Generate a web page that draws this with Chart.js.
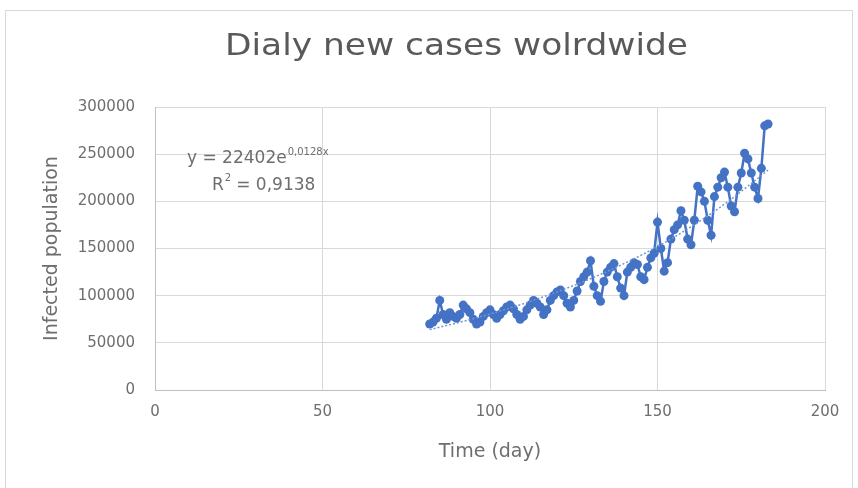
<!DOCTYPE html>
<html>
<head>
<meta charset="utf-8">
<script src="https://cdn.jsdelivr.net/npm/chart.js@4.4.4/dist/chart.umd.min.js"></script>
<style>
  html, body { margin: 0; padding: 0; background: #fff; }
  #wrap { width: 858px; height: 488px; position: relative; }
</style>
</head>
<body>
<div id="wrap"><canvas id="chart"></canvas></div>
<script>
// daily new cases
const days = [
  82, 83, 84, 85, 86, 87, 88, 89, 90, 91, 92, 93, 94, 95, 96, 97, 98, 99, 100, 101,
  102, 103, 104, 105, 106, 107, 108, 109, 110, 111, 112, 113, 114, 115, 116, 117, 118, 119, 120, 121,
  122, 123, 124, 125, 126, 127, 128, 129, 130, 131, 132, 133, 134, 135, 136, 137, 138, 139, 140, 141,
  142, 143, 144, 145, 146, 147, 148, 149, 150, 151, 152, 153, 154, 155, 156, 157, 158, 159, 160, 161,
  162, 163, 164, 165, 166, 167, 168, 169, 170, 171, 172, 173, 174, 175, 176, 177, 178, 179, 180, 181,
  182, 183
];
const cases = [
  70000, 72000, 76000, 95000, 80000, 75000, 82000, 78000, 76000, 80000, 90000, 86000, 82000, 75000, 70000, 72000, 78000, 82000, 85000, 80000,
  76000, 80000, 84000, 88000, 90000, 86000, 80000, 75000, 78000, 85000, 90000, 95000, 92000, 88000, 80000, 85000, 95000, 100000, 104000, 106000,
  100000, 92000, 88000, 95000, 105000, 115000, 120000, 125000, 137000, 110000, 100000, 94000, 115000, 125000, 130000, 134000, 120000, 108000, 100000, 125000,
  130000, 135000, 133000, 120000, 117000, 130000, 140000, 145000, 178000, 150000, 126000, 135000, 160000, 170000, 175000, 190000, 180000, 160000, 154000, 180000,
  216000, 210000, 200000, 180000, 164000, 205000, 215000, 225000, 231000, 215000, 195000, 189000, 215000, 230000, 251000, 245000, 230000, 215000, 203000, 235000,
  280000, 282000
];
// exponential trendline as drawn (dotted)
const trendDays = [82, 90, 100, 110, 120, 130, 140, 150, 160, 170, 183];
const trendValues = [64000, 71000, 80500, 91500, 104000, 118000, 134000, 152000, 173000, 197000, 233000];

const chartTitle = 'Dialy new cases wolrdwide';
const xTitle = 'Time (day)';
const yTitle = 'Infected population';

const grey = '#595959';
const lightGrey = '#6e6e6e';
const gridGrey = '#d9d9d9';
const font = '"DejaVu Sans", sans-serif';

const extras = {
  id: 'extras',
  beforeDraw(chart) {
    const ctx = chart.ctx;
    ctx.save();
    ctx.fillStyle = '#fff';
    ctx.fillRect(0, 0, chart.width, chart.height);
    ctx.strokeStyle = '#d9d9d9';
    ctx.lineWidth = 1;
    ctx.strokeRect(5.5, 10.5, 847, 480);
    ctx.restore();
  },
  afterDraw(chart) {
    const ctx = chart.ctx;
    ctx.save();
    ctx.fillStyle = grey;
    ctx.textBaseline = 'alphabetic';

    // chart title, stretched a little like the original
    ctx.font = '30px ' + font;
    const tw = ctx.measureText(chartTitle).width;
    const sx = 463 / tw;
    ctx.save();
    ctx.translate(225, 55);
    ctx.scale(sx, 1);
    ctx.fillText(chartTitle, 0, 0);
    ctx.restore();

    // trendline equation
    ctx.fillStyle = lightGrey;
    ctx.font = '17px ' + font;
    const base = 'y = 22402e';
    ctx.fillText(base, 187, 163);
    const w = ctx.measureText(base).width;
    ctx.font = '10px ' + font;
    ctx.fillText('0,0128x', 187 + w + 1, 155);
    ctx.font = '17px ' + font;
    ctx.fillText('R', 212, 190);
    const rw = ctx.measureText('R').width;
    ctx.font = '10px ' + font;
    ctx.fillText('2', 212 + rw + 1, 181);
    ctx.font = '17px ' + font;
    ctx.fillText(' = 0,9138', 212 + rw + 7, 190);
    ctx.restore();
  }
};

new Chart(document.getElementById('chart'), {
  type: 'scatter',
  data: {
    datasets: [
      {
        label: 'Daily new cases',
        data: days.map((d, i) => ({ x: d, y: cases[i] })),
        showLine: true,
        borderColor: '#4472c4',
        backgroundColor: '#4472c4',
        borderWidth: 2.5,
        pointRadius: 4.5,
        pointBorderWidth: 0,
        order: 2,
      },
      {
        label: 'Trend',
        data: trendDays.map((d, i) => ({ x: d, y: trendValues[i] })),
        showLine: true,
        borderColor: '#6f96d6',
        borderWidth: 1.5,
        borderDash: [2, 2],
        pointRadius: 0,
        cubicInterpolationMode: 'monotone',
        order: 1,
      },
    ],
  },
  plugins: [extras],
  options: {
    responsive: true,
    maintainAspectRatio: false,
    animation: false,
    layout: { padding: { left: 0, right: 33, top: 107, bottom: 0 } },
    plugins: {
      legend: { display: false },
      tooltip: { enabled: false },
      title: { display: false },
    },
    scales: {
      x: {
        type: 'linear',
        min: 0,
        max: 200,
        ticks: {
          stepSize: 50, color: lightGrey, font: { family: font, size: 15 }, padding: 13,
          callback: v => String(v),
        },
        grid: { color: gridGrey, drawTicks: false },
        border: { color: '#bfbfbf' },
        title: {
          display: true,
          text: xTitle,
          color: lightGrey,
          font: { family: font, size: 19 },
          padding: { bottom: 25 },
        },
        afterFit: s => { s.height = 98; },
      },
      y: {
        min: 0,
        max: 300000,
        ticks: {
          stepSize: 50000, color: lightGrey, font: { family: font, size: 15 }, padding: 20,
          callback: v => String(v),
        },
        grid: { color: gridGrey, drawTicks: false },
        border: { color: '#bfbfbf' },
        title: {
          display: true,
          text: yTitle,
          color: lightGrey,
          font: { family: font, size: 19 },
          padding: { top: 41 },
        },
        afterFit: s => { s.width = 155; },
      },
    },
  },
});
</script>
</body>
</html>
